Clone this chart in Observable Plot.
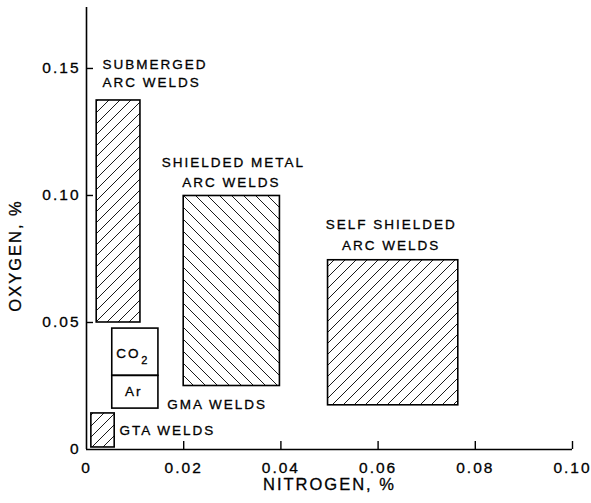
<!DOCTYPE html>
<html>
<head>
<meta charset="utf-8">
<script src="https://cdn.jsdelivr.net/npm/d3@7"></script>
<script src="https://cdn.jsdelivr.net/npm/@observablehq/plot@0.6"></script>
<style>
  html, body { margin: 0; padding: 0; background: #fff; }
  svg text { letter-spacing: 2px; }
</style>
</head>
<body>
<div id="chart"></div>
<script>
// ---- data ----
const regionNames = ["Submerged arc welds", "Shielded metal arc welds", "Self shielded arc welds", "GMA CO2", "GMA Ar", "GTA welds"];
const nitrogenMin = [0.0021, 0.0200, 0.0497, 0.0053, 0.0053, 0.0010];
const nitrogenMax = [0.0111, 0.0398, 0.0765, 0.0148, 0.0148, 0.0058];
const oxygenMin   = [0.0500, 0.0250, 0.0174, 0.0290, 0.0161, 0.0008];
const oxygenMax   = [0.1374, 0.0998, 0.0745, 0.0476, 0.0290, 0.0142];
const hatchType   = ["fwd", "back", "fwd", "none", "none", "fwd"];

const labelText = ["SUBMERGED", "ARC WELDS", "SHIELDED METAL", "ARC WELDS", "SELF SHIELDED", "ARC WELDS", "GMA WELDS", "GTA WELDS", "CO", "Ar"];
const labelN    = [0.0033, 0.0033, 0.0302, 0.0298, 0.0627, 0.0627, 0.0166, 0.0068, 0.0086, 0.0097];
const labelO    = [0.1516, 0.1445, 0.1130, 0.1050, 0.0886, 0.0803, 0.0177, 0.0075, 0.0378, 0.0228];
const labelAlign = ["start", "start", "middle", "middle", "middle", "middle", "start", "start", "middle", "middle"];
const subscriptText = ["2"];
const subscriptN = [0.0121];
const subscriptO = [0.0350];

const xTicks = [0, 0.02, 0.04, 0.06, 0.08, 0.10];
const xTickLabels = ["0", "0.02", "0.04", "0.06", "0.08", "0.10"];
const yTicks = [0, 0.05, 0.10, 0.15];
const yTickLabels = ["0", "0.05", "0.10", "0.15"];
const innerXTicks = [0.02, 0.04, 0.06, 0.08, 0.10];
const innerYTicks = [0.05, 0.10, 0.15];

const xTitle = "NITROGEN, %";
const yTitle = "OXYGEN, %";
const yTitleAt = 0.0764;

// ---- tables ----
const regions = regionNames.map((name, i) => ({
  name, x1: nitrogenMin[i], x2: nitrogenMax[i], y1: oxygenMin[i], y2: oxygenMax[i], hatch: hatchType[i]
}));
const labels = labelText.map((t, i) => ({text: t, x: labelN[i], y: labelO[i], align: labelAlign[i]}));
const subs = subscriptText.map((t, i) => ({text: t, x: subscriptN[i], y: subscriptO[i]}));
const xTickData = xTicks.map((v, i) => ({v, text: xTickLabels[i]}));
const yTickData = yTicks.map((v, i) => ({v, text: yTickLabels[i]}));

const font = "'Liberation Sans', Arial, Helvetica, sans-serif";
const W = 591, H = 503, mL = 86, mR = 19, mT = 7, mB = 54;
const frameW = W - mL - mR, frameH = H - mT - mB;
const ink = {fill: "#000", stroke: "#000", strokeWidth: 0.3};

const plot = Plot.plot({
  width: W,
  height: H,
  marginLeft: mL,
  marginRight: mR,
  marginTop: mT,
  marginBottom: mB,
  style: {fontFamily: font, color: "#000", background: "#fff"},
  x: {domain: [0, 0.1], axis: null},
  y: {domain: [0, 0.174], axis: null},
  marks: [
    // hatched and open rectangles
    Plot.rect(regions, {filter: d => d.hatch === "fwd", x1: "x1", x2: "x2", y1: "y1", y2: "y2", fill: "url(#hatchFwd)", stroke: "#000", strokeWidth: 1.6}),
    Plot.rect(regions, {filter: d => d.hatch === "back", x1: "x1", x2: "x2", y1: "y1", y2: "y2", fill: "url(#hatchBack)", stroke: "#000", strokeWidth: 1.6}),
    Plot.rect(regions, {filter: d => d.hatch === "none", x1: "x1", x2: "x2", y1: "y1", y2: "y2", fill: "none", stroke: "#000", strokeWidth: 1.6}),
    // axes lines
    Plot.ruleX([0], {stroke: "#000", strokeWidth: 1.6}),
    Plot.ruleY([0], {stroke: "#000", strokeWidth: 1.6}),
    // inward ticks
    Plot.tickX(innerXTicks, {x: d => d, insetTop: frameH - 8, stroke: "#000", strokeWidth: 1.4}),
    Plot.tickY(innerYTicks, {y: d => d, insetRight: frameW - 7, stroke: "#000", strokeWidth: 1.4}),
    // tick labels
    Plot.text(xTickData, {x: "v", text: "text", frameAnchor: "bottom", lineAnchor: "top", dy: 12, fontSize: 15.5, ...ink}),
    Plot.text(yTickData, {y: "v", text: "text", frameAnchor: "left", textAnchor: "end", dx: -6, fontSize: 15.5, ...ink}),
    // region labels
    Plot.text(labels, {filter: d => d.align === "start", x: "x", y: "y", text: "text", textAnchor: "start", fontSize: 13.5, ...ink}),
    Plot.text(labels, {filter: d => d.align === "middle", x: "x", y: "y", text: "text", textAnchor: "middle", fontSize: 13.5, ...ink}),
    Plot.text(subs, {x: "x", y: "y", text: "text", fontSize: 11, ...ink}),
    // axis titles
    Plot.text([xTitle], {frameAnchor: "bottom", textAnchor: "middle", dy: 40, fontSize: 16.5, ...ink}),
    Plot.text([yTitle], {frameAnchor: "left", textAnchor: "middle", y: () => yTitleAt, rotate: -90, dx: -71, fontSize: 16.5, ...ink})
  ]
});

// hatch pattern definitions
const defs = d3.select(plot).insert("defs", ":first-child");
const pf = defs.append("pattern").attr("id", "hatchFwd").attr("patternUnits", "userSpaceOnUse").attr("width", 11).attr("height", 11);
pf.append("rect").attr("width", 11).attr("height", 11).attr("fill", "#fff");
pf.append("path").attr("d", "M0,11 L11,0 M-2,2 L2,-2 M9,13 L13,9").attr("stroke", "#000").attr("stroke-width", 0.9).attr("fill", "none");
const pb = defs.append("pattern").attr("id", "hatchBack").attr("patternUnits", "userSpaceOnUse").attr("width", 12).attr("height", 12);
pb.append("rect").attr("width", 12).attr("height", 12).attr("fill", "#fff");
pb.append("path").attr("d", "M0,0 L12,12 M-2,10 L2,14 M10,-2 L14,2").attr("stroke", "#000").attr("stroke-width", 0.9).attr("fill", "none");

document.getElementById("chart").appendChild(plot);
</script>
</body>
</html>
